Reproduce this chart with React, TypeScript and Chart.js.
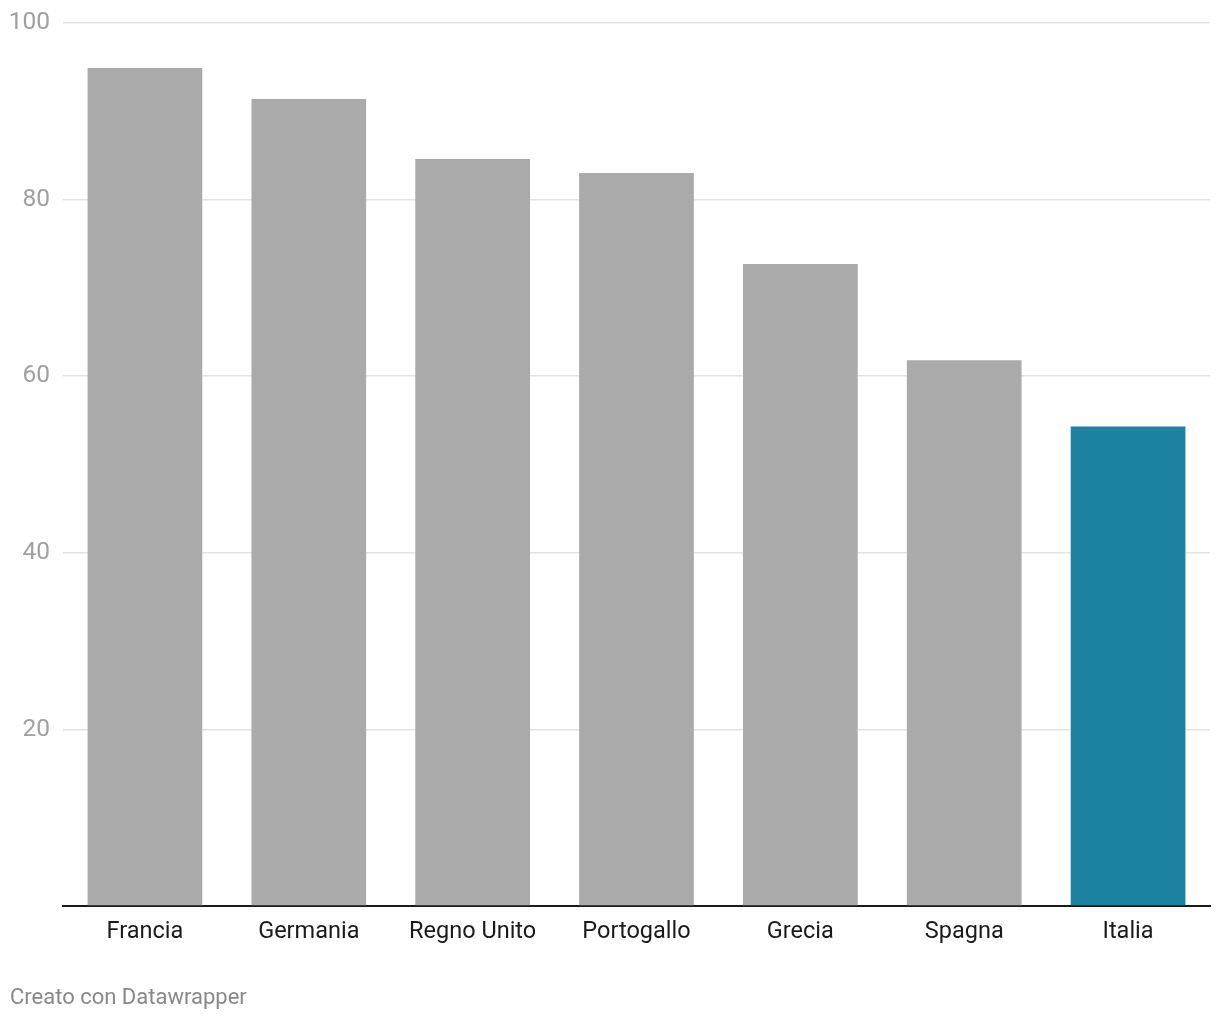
import React, { useEffect, useRef } from "react";
import { Chart, registerables } from "chart.js";

Chart.register(...registerables);

const categories = ["Francia", "Germania", "Regno Unito", "Portogallo", "Grecia", "Spagna", "Italia"];
const values = [94.9, 91.4, 84.6, 83.0, 72.7, 61.8, 54.3];
const barColors = ["#aaaaaa", "#aaaaaa", "#aaaaaa", "#aaaaaa", "#aaaaaa", "#aaaaaa", "#1d81a2"];
const yTicks = [0, 20, 40, 60, 80, 100];
const footerText = "Creato con Datawrapper";

export default function App() {
  const ref = useRef<HTMLCanvasElement | null>(null);

  useEffect(() => {
    if (!ref.current) return;
    const chart = new Chart(ref.current, {
      type: "bar",
      data: {
        labels: categories,
        datasets: [
          {
            data: values,
            backgroundColor: barColors,
            borderWidth: 0,
            barPercentage: 0.7,
            categoryPercentage: 1,
          },
        ],
      },
      options: {
        responsive: false,
        animation: false,
        layout: { padding: { left: 10, right: 10, top: 23, bottom: 0 } },
        plugins: { legend: { display: false }, tooltip: { enabled: false } },
        scales: {
          x: {
            grid: { display: false },
            border: { display: true, color: "#1a1a1a", width: 2 },
            ticks: {
              color: "#1a1a1a",
              font: { family: "Roboto", size: 23.5 },
              padding: 4,
              maxRotation: 0,
              autoSkip: false,
            },
            afterFit: (axis: any) => {
              axis.height = 114;
            },
          },
          y: {
            min: 0,
            max: 100,
            afterBuildTicks: (axis: any) => {
              axis.ticks = yTicks.map((v) => ({ value: v }));
            },
            border: { display: false },
            grid: {
              drawTicks: false,
              color: (ctx: any) => (ctx.tick && ctx.tick.value === 0 ? "rgba(0,0,0,0)" : "#e3e3e3"),
              lineWidth: 1.5,
            },
            ticks: {
              color: "#a0a0a0",
              font: { family: "Roboto", size: 24.5 },
              crossAlign: "near",
              padding: 13,
              callback: (v: any) => (Number(v) === 0 ? "" : String(v)),
            },
            afterFit: (axis: any) => {
              axis.width = 53;
              axis.paddingTop = 0;
              axis.paddingBottom = 0;
            },
          },
        },
      },
    });
    return () => chart.destroy();
  }, []);

  return (
    <div style={{ position: "absolute", left: 0, top: 0, width: 1220, height: 1020, background: "#fff" }}>
      <canvas ref={ref} width={1220} height={1020} style={{ display: "block" }} />
      <div
        style={{
          position: "absolute",
          left: 10,
          top: 984,
          fontFamily: "Roboto",
          fontSize: 22,
          color: "#888888",
          whiteSpace: "nowrap",
          lineHeight: "26px",
        }}
      >
        {footerText}
      </div>
    </div>
  );
}
